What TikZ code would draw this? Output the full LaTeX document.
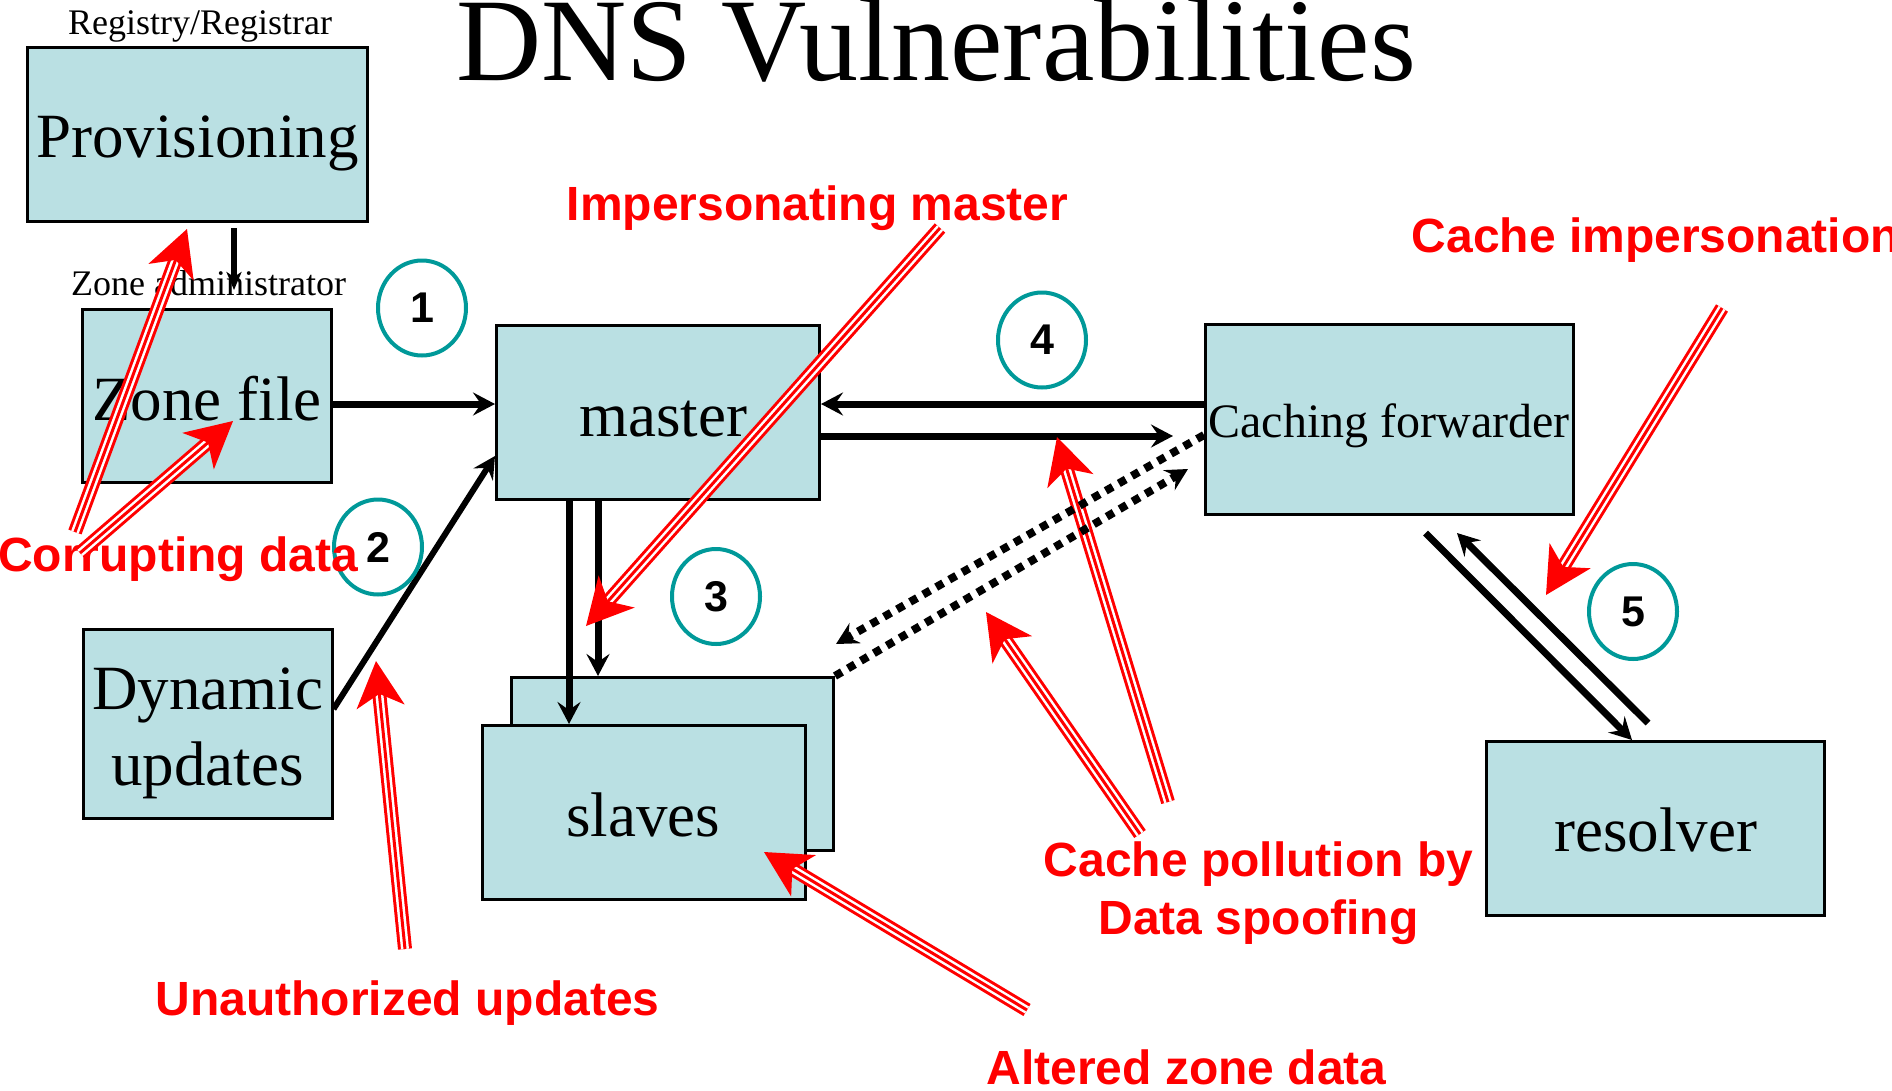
\documentclass[tikz,border=0pt]{standalone}
\usepackage{fontspec}
\setmainfont{Liberation Serif}
\newfontfamily\hel{Liberation Sans}
\usetikzlibrary{arrows.meta,shapes.geometric,calc}
\definecolor{boxfill}{HTML}{BAE0E3}
\definecolor{ringteal}{HTML}{009999}
\definecolor{attackred}{HTML}{FF0000}
\begin{document}
\begin{tikzpicture}[x=1pt,y=-1pt,
  box/.style={draw=black, line width=3pt, fill=boxfill, inner sep=0pt},
  boxtext/.style={anchor=base, inner sep=0pt, font=\fontsize{63}{76}\selectfont},
  smalltext/.style={anchor=base, inner sep=0pt, font=\fontsize{36}{40}\selectfont},
  attack/.style={anchor=base, inner sep=0pt, text=attackred, font=\hel\bfseries\fontsize{48}{58}\selectfont},
  num/.style={ellipse, draw=ringteal, line width=4pt, minimum width=88pt, minimum height=95pt, inner sep=0pt, font=\hel\bfseries\fontsize{43}{43}\selectfont},
  flow/.style={draw=black, line width=7pt, -{Stealth[length=22pt,width=23pt,inset=8pt]}},
  dotflow/.style={flow, line width=8pt, dash pattern=on 8pt off 7pt},
  redarrow/.style={draw=attackred, line width=3pt, -{Stealth[length=46pt,width=48pt,inset=13pt]},
    preaction={draw=attackred, line width=14pt, arrows=-, shorten >=31pt},
    preaction={draw=white, line width=8pt, arrows=-, shorten >=31pt}}
]
\useasboundingbox (0,0) rectangle (1892,1090);

% title and small labels
\node[anchor=base, inner sep=0pt, font=\fontsize{118}{118}\selectfont] (title) at (936,80) {DNS Vulnerabilities};
\node[smalltext] (registry) at (200,34) {Registry/Registrar};

% boxes
\node[box, minimum width=340pt, minimum height=174pt] (prov) at (197.5,134.5) {};
\node[box, minimum width=249pt, minimum height=173pt] (zone) at (207,396) {};
\node[box, minimum width=249pt, minimum height=189pt] (dyn) at (207.5,724) {};
\node[box, minimum width=323pt, minimum height=174pt] (master) at (658,412.5) {};
\node[box, minimum width=368pt, minimum height=190pt] (cache) at (1389.5,419.5) {};
\node[box, minimum width=322pt, minimum height=173pt] (slavesback) at (672.5,764) {};
\node[box, minimum width=323pt, minimum height=174pt] (slaves) at (644,812.5) {};
\node[box, minimum width=338pt, minimum height=174pt] (resolver) at (1655.5,828.5) {};

% box texts
\node[boxtext] (provT) at (197.5,157) {Provisioning};
\node[boxtext] (zoneT) at (207,420) {Zone file};
\node[boxtext] (dynT) at (207.5,709) {\begin{tabular}[t]{@{}c@{}}Dynamic\\updates\end{tabular}};
\node[boxtext] (masterT) at (663,436) {master};
\node[boxtext, font=\fontsize{48}{56}\selectfont] (cacheT) at (1389,437) {Caching forwarder};
\node[boxtext] (slavesT) at (643,836) {slaves};
\node[boxtext] (resolverT) at (1655.5,851) {resolver};

% black connectors
\draw[flow, line width=5.5pt, -{Stealth[length=18pt,width=15pt,inset=5pt]}]
  ([xshift=36.5pt,yshift=-5pt]prov.south) -- ([xshift=27pt,yshift=18pt]zone.north);
\node[smalltext] (zadm) at (208.5,295) {Zone administrator};
\draw[flow] ([yshift=-8pt]zone.east) -- ([yshift=-8pt]zone.east -| master.west);
\draw[flow] ([yshift=15.5pt]cache.west) -- ([yshift=15.5pt]cache.west -| master.east);
\draw[flow] ([yshift=-23.5pt]master.east) -- ($([yshift=-23.5pt]master.east -| cache.west)+(-31,0)$);
\draw[flow, line width=6pt] ([yshift=15pt]dyn.east) -- ([yshift=-43.5pt]master.west);
\draw[flow] ([xshift=-89pt]master.south) -- ([xshift=-89pt]master.south |- slaves.north);
\draw[flow] ([xshift=-60pt]master.south) -- ([xshift=-60pt]master.south |- slavesback.north);
\draw[flow] ([xshift=36pt,yshift=-17pt]cache.south) -- ([xshift=-23.5pt]resolver.north);
\draw[flow] ([xshift=-7.5pt,yshift=17pt]resolver.north) -- ([xshift=67.5pt,yshift=-17pt]cache.south);

% numbered rings
\node[num] (c1) at (422,308) {1};
\node[num] (c2) at (378,547) {2};
\node[num] (c3) at (716,596.5) {3};
\node[num] (c4) at (1042,340) {4};
\node[num] (c5) at (1633,611.5) {5};

% attack labels
\node[attack] (impm) at (817.5,220) {Impersonating master};
\node[attack, anchor=base west] (cimp) at (1411.5,252) {Cache impersonation};
\node[attack, anchor=base west] (corr) at (-2,571) {Corrupting data};
\node[attack] (unauth) at (407.5,1015) {Unauthorized updates};
\node[attack] (altered) at (1186.5,1084) {Altered zone data};
\node[attack] (pollution) at (1258.5,876) {\begin{tabular}[t]{@{}c@{}}Cache pollution by\\Data spoofing\end{tabular}};

% attack arrow end points
\coordinate (r1s) at (75,532);   \coordinate (r1e) at (187,229);
\coordinate (r2s) at (80,553);   \coordinate (r2e) at (233,421);
\coordinate (r3s) at (940,228);  \coordinate (r3e) at (586,626);
\coordinate (r4s) at (1722,308); \coordinate (r4e) at (1546,595);
\coordinate (r5s) at (405,949);  \coordinate (r5e) at (376,661);
\coordinate (r6s) at (1027,1010);\coordinate (r6e) at (764,852);
\coordinate (r7s) at (1140,834); \coordinate (r7e) at (986,612);
\coordinate (r8s) at (1168,802); \coordinate (r8e) at (1057,437);

\foreach \i in {1,...,8} { \draw[redarrow] (r\i s) -- (r\i e); }

% dotted connectors
\coordinate (d1end) at (836,644);
\coordinate (d2end) at (1188,469);
\draw[dotflow] ([yshift=-15.5pt]cache.west) -- (d1end);
\draw[dotflow] (slavesback.north east) -- (d2end);
\end{tikzpicture}
\end{document}
